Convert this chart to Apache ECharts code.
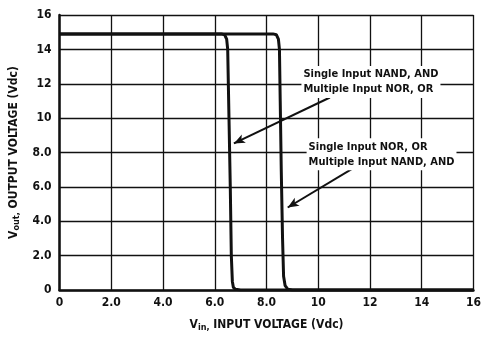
<!DOCTYPE html>
<html>
<head>
<meta charset="utf-8">
<script src="https://cdn.jsdelivr.net/npm/echarts@6/dist/echarts.min.js"></script>
<style>
  html, body { margin: 0; padding: 0; background: #fff; }
  #chart { width: 484px; height: 337px; }
</style>
</head>
<body>
<div id="chart"></div>
<script>
// Transfer characteristic: output voltage vs. input voltage (VDD = 15 V)
const vinLow  = [0, 6.25, 6.38, 6.46, 6.5, 6.55, 6.6, 6.64, 6.68, 6.72, 6.8, 7.0, 16];
const voutLow = [14.9, 14.9, 14.85, 14.6, 14.0, 10.0, 6.0, 2.0, 0.5, 0.15, 0.04, 0, 0];

const vinHigh  = [0, 8.25, 8.38, 8.46, 8.5, 8.53, 8.57, 8.62, 8.66, 8.72, 8.82, 9.0, 16];
const voutHigh = [14.9, 14.9, 14.85, 14.6, 14.0, 11.0, 7.0, 3.0, 0.8, 0.25, 0.05, 0, 0];

const xTickLabels = { 0: '0', 2: '2.0', 4: '4.0', 6: '6.0', 8: '8.0', 10: '10', 12: '12', 14: '14', 16: '16' };
const yTickLabels = { 0: '0', 2: '2.0', 4: '4.0', 6: '6.0', 8: '8.0', 10: '10', 12: '12', 14: '14', 16: '16' };

// Annotation text and the arrow each one points with (in volts)
const noteLowLines  = ['Single Input NAND, AND', 'Multiple Input NOR, OR'];
const noteLowAt     = [9.35, 12.1];
const arrowLow      = [[10.45, 11.2], [6.74, 8.53]];

const noteHighLines = ['Single Input NOR, OR', 'Multiple Input NAND, AND'];
const noteHighAt    = [9.55, 7.9];
const arrowHigh     = [[11.37, 7.1], [8.82, 4.8]];

const pairs = (xs, ys) => xs.map((x, i) => [x, ys[i]]);

const FONT = "'Liberation Sans Narrow', 'DejaVu Sans Condensed', Arial, sans-serif";
const INK = '#111';

const noteLabel = {
  show: true,
  position: 'inside',
  align: 'left',
  verticalAlign: 'middle',
  fontFamily: FONT,
  fontWeight: 'bold',
  fontSize: 11,
  lineHeight: 15,
  color: INK,
  backgroundColor: '#fff',
  padding: [1, 2, 1, 2]
};

const chart = echarts.init(document.getElementById('chart'), null, { renderer: 'canvas' });

chart.setOption({
  animation: false,
  backgroundColor: '#fff',
  grid: { left: 55, right: 7, top: 15, bottom: 43.5, show: false },
  xAxis: {
    type: 'value', min: 0, max: 16, interval: 2,
    name: '{v|V}{s|in,} INPUT VOLTAGE (Vdc)',
    nameLocation: 'middle', nameGap: 27,
    nameTextStyle: {
      fontFamily: FONT, fontWeight: 'bold', fontSize: 12, color: INK,
      rich: {
        v: { fontFamily: FONT, fontWeight: 'bold', fontSize: 12, color: INK },
        s: { fontFamily: FONT, fontWeight: 'bold', fontSize: 9, color: INK, padding: [6, 0, 0, 0] }
      }
    },
    axisLine: { show: true, onZero: false, lineStyle: { color: INK, width: 2.5 } },
    axisTick: { show: false },
    axisLabel: {
      margin: 7, fontFamily: FONT, fontWeight: 'bold', fontSize: 12, color: INK,
      formatter: v => xTickLabels[v] ?? ''
    },
    splitLine: { show: true, lineStyle: { color: INK, width: 1.3 } }
  },
  yAxis: {
    type: 'value', min: 0, max: 16, interval: 2,
    name: '{v|V}{s|out,} OUTPUT VOLTAGE (Vdc)',
    nameLocation: 'middle', nameGap: 37, nameRotate: 90,
    nameTextStyle: {
      fontFamily: FONT, fontWeight: 'bold', fontSize: 12, color: INK,
      rich: {
        v: { fontFamily: FONT, fontWeight: 'bold', fontSize: 12, color: INK },
        s: { fontFamily: FONT, fontWeight: 'bold', fontSize: 9, color: INK, padding: [6, 0, 0, 0] }
      }
    },
    axisLine: { show: true, onZero: false, lineStyle: { color: INK, width: 2.5 } },
    axisTick: { show: false },
    axisLabel: {
      margin: 8, fontFamily: FONT, fontWeight: 'bold', fontSize: 12, color: INK,
      formatter: v => yTickLabels[v] ?? ''
    },
    splitLine: { show: true, lineStyle: { color: INK, width: 1.3 } }
  },
  series: [
    {
      name: 'lowThreshold',
      type: 'line',
      data: pairs(vinLow, voutLow),
      showSymbol: false,
      lineStyle: { color: INK, width: 3 },
      z: 3,
      markLine: {
        silent: true,
        symbol: ['none', 'arrow'],
        symbolSize: [7, 11],
        label: { show: false },
        lineStyle: { color: INK, width: 2, type: 'solid' },
        data: [[{ coord: arrowLow[0] }, { coord: arrowLow[1] }]]
      },
      markPoint: {
        silent: true,
        symbol: 'rect', symbolSize: 1,
        itemStyle: { color: 'rgba(0,0,0,0)' },
        label: Object.assign({}, noteLabel, { formatter: noteLowLines.join('\n') }),
        data: [{ coord: noteLowAt }]
      }
    },
    {
      name: 'highThreshold',
      type: 'line',
      data: pairs(vinHigh, voutHigh),
      showSymbol: false,
      lineStyle: { color: INK, width: 3 },
      z: 3,
      markLine: {
        silent: true,
        symbol: ['none', 'arrow'],
        symbolSize: [7, 11],
        label: { show: false },
        lineStyle: { color: INK, width: 2, type: 'solid' },
        data: [[{ coord: arrowHigh[0] }, { coord: arrowHigh[1] }]]
      },
      markPoint: {
        silent: true,
        symbol: 'rect', symbolSize: 1,
        itemStyle: { color: 'rgba(0,0,0,0)' },
        label: Object.assign({}, noteLabel, { formatter: noteHighLines.join('\n') }),
        data: [{ coord: noteHighAt }]
      }
    }
  ]
});
</script>
</body>
</html>
